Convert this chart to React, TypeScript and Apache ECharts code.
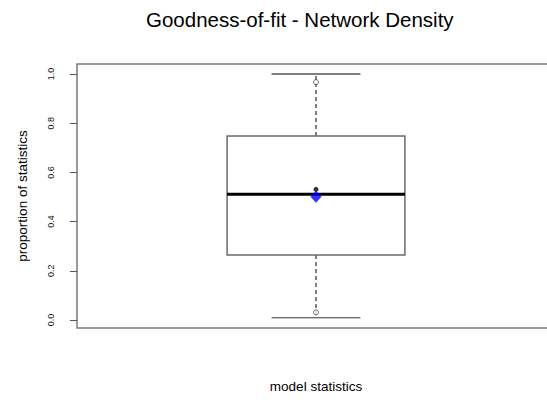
import React, { useEffect, useRef } from "react";
import * as echarts from "echarts";

const titleText = "Goodness-of-fit - Network Density";
const xAxisTitle = "model statistics";
const yAxisTitle = "proportion of statistics";
const yTicks = [0, 0.2, 0.4, 0.6, 0.8, 1.0];
// [x, lower whisker, Q1, median, Q3, upper whisker]
const boxStats = [[1, 0.009, 0.264, 0.511, 0.748, 1.0]];
const quantilePoints = [[1, 0.967], [1, 0.031]];
const observedPoint = [[1, 0.531]];
const meanPoint = [[1, 0.501]];

const BOX_HALF = 0.186;
const CAP_HALF = 0.093;

export default function App() {
  const ref = useRef<HTMLDivElement>(null);
  useEffect(() => {
    if (!ref.current) return;
    const chart = echarts.init(ref.current, null, { renderer: "svg" });
    const font = "'Liberation Sans', Arial, sans-serif";
    chart.setOption({
      animation: false,
      backgroundColor: "#ffffff",
      title: {
        text: titleText,
        left: 141,
        top: 4,
        textStyle: { fontFamily: font, fontSize: 20.5, fontWeight: "normal", color: "#000" },
      },
      grid: {
        left: 77,
        right: 0,
        top: 64,
        bottom: 83,
        show: true,
        borderColor: "#7a7a7a",
        borderWidth: 1.5,
        backgroundColor: "transparent",
      },
      xAxis: {
        type: "value",
        min: 0.5,
        max: 1.5,
        name: xAxisTitle,
        nameLocation: "middle",
        nameGap: 51,
        nameTextStyle: { fontFamily: font, fontSize: 13.5, color: "#000" },
        axisLine: { show: false },
        axisTick: { show: false },
        axisLabel: { show: false },
        splitLine: { show: false },
      },
      yAxis: {
        type: "value",
        min: -0.0325,
        max: 1.0407,
        name: yAxisTitle,
        nameLocation: "middle",
        nameRotate: 90,
        nameGap: 48,
        nameTextStyle: { fontFamily: font, fontSize: 13.5, color: "#000" },
        axisLine: { show: false },
        axisTick: {
          show: true,
          length: 7,
          inside: false,
          customValues: yTicks,
          lineStyle: { color: "#555", width: 1 },
        },
        axisLabel: {
          show: true,
          rotate: 90,
          margin: 22,
          customValues: yTicks,
          formatter: (v: number) => v.toFixed(1),
          fontFamily: font,
          fontSize: 9,
          color: "#111",
        },
        splitLine: { show: false },
      },
      series: [
        {
          type: "custom",
          z: 2,
          data: boxStats,
          renderItem: (params: any, api: any) => {
            const x = api.value(0);
            const lo = api.value(1);
            const q1 = api.value(2);
            const med = api.value(3);
            const q3 = api.value(4);
            const hi = api.value(5);
            const cx = api.coord([x, 0])[0];
            const bl = api.coord([x - BOX_HALF, 0])[0];
            const br = api.coord([x + BOX_HALF, 0])[0];
            const cl = api.coord([x - CAP_HALF, 0])[0];
            const cr = api.coord([x + CAP_HALF, 0])[0];
            const yLo = api.coord([x, lo])[1];
            const yQ1 = api.coord([x, q1])[1];
            const yMed = api.coord([x, med])[1];
            const yQ3 = api.coord([x, q3])[1];
            const yHi = api.coord([x, hi])[1];
            const dash = { stroke: "#000", lineWidth: 1, lineDash: [4, 3] };
            const solid = { stroke: "#000", lineWidth: 1 };
            return {
              type: "group",
              children: [
                { type: "line", shape: { x1: cx, y1: yQ3, x2: cx, y2: yHi }, style: dash },
                { type: "line", shape: { x1: cx, y1: yQ1, x2: cx, y2: yLo }, style: dash },
                { type: "line", shape: { x1: cl, y1: yHi, x2: cr, y2: yHi }, style: solid },
                { type: "line", shape: { x1: cl, y1: yLo, x2: cr, y2: yLo }, style: { stroke: "#333", lineWidth: 1 } },
                {
                  type: "rect",
                  shape: { x: bl, y: yQ3, width: br - bl, height: yQ1 - yQ3 },
                  style: { fill: "#fff", stroke: "#6a6a6a", lineWidth: 1.5 },
                },
                { type: "line", shape: { x1: bl, y1: yMed, x2: br, y2: yMed }, style: { stroke: "#000", lineWidth: 3 } },
              ],
            };
          },
        },
        {
          type: "scatter",
          z: 3,
          data: quantilePoints,
          symbol: "circle",
          symbolSize: 5,
          itemStyle: { color: "#fff", borderColor: "#444", borderWidth: 1 },
        },
        {
          type: "scatter",
          z: 3,
          data: observedPoint,
          symbol: "circle",
          symbolSize: 5,
          itemStyle: { color: "#000" },
        },
        {
          type: "scatter",
          z: 4,
          data: meanPoint,
          symbol: "diamond",
          symbolSize: [11, 12],
          itemStyle: { color: "#0000ff" },
        },
      ],
    });
    return () => chart.dispose();
  }, []);
  return (
    <div
      ref={ref}
      style={{ position: "fixed", left: 0, top: 0, width: 555, height: 411 }}
    />
  );
}
